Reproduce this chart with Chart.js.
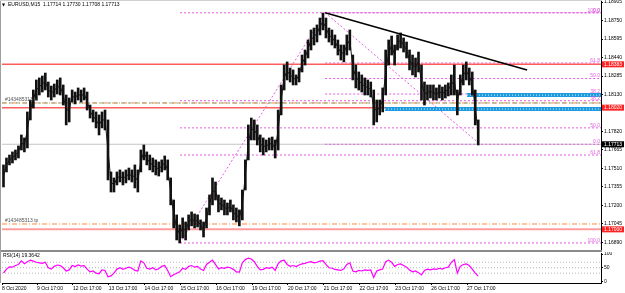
<!DOCTYPE html>
<html>
<head>
<meta charset="utf-8">
<script src="https://cdn.jsdelivr.net/npm/chart.js@4.4.1/dist/chart.umd.min.js"></script>
<style>
  html, body { margin: 0; padding: 0; background: #fff; }
  #wrap { position: relative; width: 625px; height: 293px; overflow: hidden; background: #fff; }
  #main { position: absolute; left: 0; top: 0; }
  #rsi { position: absolute; left: 0; top: 252px; }
  #sep { position: absolute; left: 0; top: 250px; width: 602px; height: 2px; background: #8a8a8a; }
  #edge { position: absolute; left: 0; top: 0; width: 1px; height: 283px; background: #a0a0a0; }
  #topline { position: absolute; left: 0; top: 0; width: 602px; height: 1px; background: #d0d0d0; }
</style>
</head>
<body>
<div id="wrap">
  <canvas id="main" width="625" height="250"></canvas>
  <div id="sep"></div>
  <canvas id="rsi" width="625" height="41"></canvas>
  <div id="edge"></div>
  <div id="topline"></div>
</div>
<script>
// EURUSD M15 with RSI(14) - MT4 style chart

// one drawn column = 8 M15 bars, plot width = 1605 bars
const sampleStep = 8;
const barsShown = 1605;

// high / low of each column
const highs = [
  1.17540, 1.17598, 1.17623, 1.17649, 1.17665, 1.17699, 1.17791, 1.17766, 1.17984, 1.18084,
  1.18168, 1.18252, 1.18269, 1.18285, 1.18310, 1.18235, 1.18201, 1.18218, 1.18252, 1.18269,
  1.18210, 1.18126, 1.18101, 1.18168, 1.18151, 1.18185, 1.18168, 1.18185, 1.18151, 1.18042,
  1.18000, 1.17984, 1.17959, 1.17984, 1.18000, 1.17917, 1.17481, 1.17431, 1.17481, 1.17498,
  1.17481, 1.17498, 1.17514, 1.17498, 1.17540, 1.17498, 1.17665, 1.17707, 1.17649, 1.17623,
  1.17598, 1.17582, 1.17565, 1.17582, 1.17615, 1.17582, 1.17431, 1.17246, 1.17121, 1.17037,
  1.17096, 1.17062, 1.17121, 1.17146, 1.17129, 1.17121, 1.17079, 1.17062, 1.17179, 1.17288,
  1.17431, 1.17397, 1.17288, 1.17263, 1.17246, 1.17221, 1.17246, 1.17205, 1.17179, 1.17163,
  1.17330, 1.17582, 1.17875, 1.17933, 1.17917, 1.17875, 1.17791, 1.17766, 1.17749, 1.17766,
  1.17774, 1.17749, 1.18000, 1.18210, 1.18377, 1.18403, 1.18352, 1.18336, 1.18294, 1.18352,
  1.18461, 1.18503, 1.18587, 1.18671, 1.18687, 1.18713, 1.18771, 1.18813, 1.18771, 1.18687,
  1.18671, 1.18629, 1.18587, 1.18545, 1.18545, 1.18629, 1.18671, 1.18461, 1.18377, 1.18319,
  1.18294, 1.18269, 1.18252, 1.18235, 1.18168, 1.18084, 1.18084, 1.18185, 1.18503, 1.18587,
  1.18620, 1.18545, 1.18629, 1.18646, 1.18604, 1.18570, 1.18503, 1.18461, 1.18436, 1.18486,
  1.18377, 1.18235, 1.18210, 1.18210, 1.18210, 1.18185, 1.18210, 1.18193, 1.18210, 1.18227,
  1.18294, 1.18377, 1.18168, 1.18294, 1.18377, 1.18403, 1.18352, 1.18319, 1.18168, 1.17917
];
const lows = [
  1.17355, 1.17481, 1.17540, 1.17556, 1.17582, 1.17598, 1.17665, 1.17649, 1.17682, 1.17917,
  1.18017, 1.18084, 1.18126, 1.18151, 1.18168, 1.18109, 1.18084, 1.18109, 1.18134, 1.18126,
  1.18042, 1.17875, 1.17900, 1.18067, 1.18051, 1.18084, 1.18067, 1.18084, 1.18000, 1.17933,
  1.17900, 1.17850, 1.17791, 1.17850, 1.17833, 1.17414, 1.17313, 1.17313, 1.17372, 1.17397,
  1.17372, 1.17389, 1.17414, 1.17397, 1.17347, 1.17313, 1.17481, 1.17582, 1.17540, 1.17498,
  1.17481, 1.17456, 1.17447, 1.17481, 1.17498, 1.17414, 1.17205, 1.17012, 1.16911, 1.16886,
  1.16928, 1.16911, 1.16995, 1.17029, 1.17012, 1.17020, 1.16995, 1.16936, 1.17012, 1.17121,
  1.17205, 1.17246, 1.17146, 1.17163, 1.17121, 1.17121, 1.17146, 1.17079, 1.17062, 1.17029,
  1.17079, 1.17330, 1.17582, 1.17749, 1.17749, 1.17707, 1.17649, 1.17623, 1.17649, 1.17665,
  1.17665, 1.17598, 1.17665, 1.17959, 1.18168, 1.18252, 1.18235, 1.18210, 1.18210, 1.18235,
  1.18319, 1.18377, 1.18436, 1.18503, 1.18545, 1.18570, 1.18629, 1.18671, 1.18604, 1.18570,
  1.18545, 1.18520, 1.18461, 1.18419, 1.18403, 1.18461, 1.18503, 1.18252, 1.18185, 1.18168,
  1.18151, 1.18126, 1.18126, 1.18109, 1.17875, 1.17900, 1.17959, 1.17984, 1.18126, 1.18377,
  1.18461, 1.18377, 1.18503, 1.18520, 1.18486, 1.18436, 1.18336, 1.18294, 1.18277, 1.18319,
  1.18084, 1.18042, 1.18084, 1.18101, 1.18084, 1.18084, 1.18101, 1.18084, 1.18101, 1.18118,
  1.18126, 1.18126, 1.17959, 1.18126, 1.18210, 1.18252, 1.18210, 1.18126, 1.17875, 1.17707
];
// RSI(14) at each column
const rsiValues = [
  30, 45, 53, 52, 58, 62, 75, 65, 72, 78,
  74, 70, 68, 66, 70, 50, 45, 55, 60, 58,
  50, 38, 42, 58, 54, 60, 56, 58, 45, 35,
  38, 30, 28, 42, 40, 17, 20, 30, 45, 50,
  44, 48, 52, 48, 40, 38, 75, 68, 48, 45,
  50, 42, 46, 55, 58, 40, 17, 24, 30, 35,
  48, 44, 55, 58, 52, 55, 45, 40, 62, 70,
  78, 62, 45, 50, 48, 52, 50, 44, 35, 34,
  68, 80, 85, 82, 72, 55, 42, 44, 50, 48,
  52, 40, 65, 75, 78, 62, 55, 58, 54, 60,
  64, 66, 70, 72, 68, 70, 74, 76, 62, 50,
  48, 44, 42, 40, 46, 62, 68, 38, 35, 40,
  38, 42, 40, 42, 14, 38, 42, 45, 72, 78,
  70, 55, 62, 64, 58, 52, 42, 35, 38, 32,
  24, 40, 45, 42, 46, 44, 48, 45, 50, 52,
  70, 80, 30, 55, 62, 64, 58, 45, 30, 19.3642
];

const priceTicks = [1.18905, 1.18750, 1.18595, 1.18440, 1.18285, 1.18130, 1.17820,
  1.17665, 1.17510, 1.17355, 1.17200, 1.17045, 1.16890];
const timeTickBars = [0, 94, 190, 286, 382, 478, 574, 670, 766, 862, 958, 1054, 1150, 1246];
const timeLabels = ['8 Oct 2020', '9 Oct 17:00', '12 Oct 17:00', '13 Oct 17:00', '14 Oct 17:00',
  '15 Oct 17:00', '16 Oct 17:00', '19 Oct 17:00', '20 Oct 17:00', '21 Oct 17:00',
  '22 Oct 17:00', '23 Oct 17:00', '26 Oct 17:00', '27 Oct 17:00'];
const rsiTicks = [0, 30, 50, 70, 100];
const rsiLevels = [30, 50, 70];

// objects on the chart
const redLevels = [1.18383, 1.18020, 1.17000];
const bidPrice = 1.17713;
const orderLevels = [1.18059, 1.17045];
const orderNames = ['#143485313 sl', '#143485313 tp'];
const blueStart = [1246, 1026];
const bluePrice = [1.18125, 1.18008];
const trendBars = [866, 1407];
const trendPrices = [1.18815, 1.18336];
const fibBars = [[477, 866], [866, 1281]];
const fibPrices = [[1.16886, 1.18815], [1.18815, 1.17713]];
const fibLevels = [0, 38.2, 50, 61.8, 100];

const FONT = 'Liberation Sans';
const fibColor = '#e45ce4';

function hline(price, from, color, width, dash, order) {
  return {
    type: 'line',
    data: [{ x: from, y: price }, { x: barsShown, y: price }],
    borderColor: color, borderWidth: width, borderDash: dash || [],
    pointRadius: 0, fill: false, order: order
  };
}

function fibPrice(f, lvl) {
  const p100 = fibPrices[f][0], p0 = fibPrices[f][1];
  return p0 + (p100 - p0) * lvl / 100;
}

// main window datasets
const mainSets = [];
mainSets.push({
  type: 'bar',
  data: highs.map((h, i) => ({ x: i * sampleStep + 4, y: [lows[i], h] })),
  backgroundColor: '#111', borderWidth: 0, barThickness: 2, grouped: false, order: 1
});
// thin stroke through the columns so the price path stays connected
mainSets.push({
  type: 'line',
  data: highs.map((h, i) => ({ x: i * sampleStep + 4, y: (h + lows[i]) / 2 })),
  borderColor: '#222', borderWidth: 1, pointRadius: 0, tension: 0, order: 1
});
mainSets.push(hline(bidPrice, 0, '#c4c4c4', 1, [], 8));
fibBars.forEach((fb, f) => {
  fibLevels.forEach(lvl => mainSets.push(hline(fibPrice(f, lvl), fb[0], fibColor, 1, [2, 2], 7)));
  mainSets.push({
    type: 'line',
    data: [{ x: fb[0], y: fibPrices[f][0] }, { x: fb[1], y: fibPrices[f][1] }],
    borderColor: fibColor, borderWidth: 1, borderDash: [2, 2], pointRadius: 0, order: 7
  });
});
mainSets.push(hline(redLevels[0], 0, '#ff5c5c', 1.5, [], 5));
mainSets.push(hline(redLevels[1], 0, '#ff5c5c', 1.5, [], 5));
mainSets.push(hline(redLevels[2], 0, '#ff9c9c', 2, [], 5));
mainSets.push(hline(orderLevels[0], 0, '#8fae8f', 1, [4, 3], 6));
orderLevels.forEach(p => mainSets.push(hline(p, 0, '#ff8a3d', 1, [5, 2, 1, 2], 6)));
bluePrice.forEach((p, i) => {
  mainSets.push(hline(p, blueStart[i], '#1e9be0', 4, [], 3));
  mainSets.push(hline(p, blueStart[i], 'rgba(255,255,255,0.85)', 1, [1, 2], 2));
});
mainSets.push({
  type: 'line',
  data: trendBars.map((b, i) => ({ x: b, y: trendPrices[i] })),
  borderColor: '#000', borderWidth: 1.5, pointRadius: 0, order: 0
});

// texts and price boxes
const overlay = {
  id: 'overlay',
  afterDraw(chart) {
    const ctx = chart.ctx, ys = chart.scales.y;
    ctx.save();
    ctx.textBaseline = 'middle';
    ctx.fillStyle = '#000';
    ctx.font = '4px "DejaVu Sans"';
    ctx.fillText('\u25BC', 2, 5);
    ctx.font = '5px "' + FONT + '"';
    ctx.fillText('EURUSD,M15  1.17714 1.17730 1.17708 1.17713', 8, 5);

    // order labels
    ctx.fillStyle = '#555';
    ctx.textBaseline = 'bottom';
    orderLevels.forEach((p, i) => ctx.fillText(orderNames[i], 5, ys.getPixelForValue(p) - 0.5));

    // fib level labels
    ctx.fillStyle = fibColor;
    ctx.textAlign = 'right';
    fibBars.forEach((fb, f) => {
      fibLevels.forEach(lvl => {
        ctx.fillText(lvl.toFixed(1), chart.chartArea.right - 1, ys.getPixelForValue(fibPrice(f, lvl)));
      });
    });

    // price boxes on the axis
    ctx.textAlign = 'left';
    ctx.textBaseline = 'middle';
    const boxes = redLevels.map(p => [p, '#ff2020']).concat([[bidPrice, '#000']]);
    boxes.forEach(([p, c]) => {
      const y = ys.getPixelForValue(p);
      ctx.fillStyle = c;
      ctx.fillRect(chart.chartArea.right + 1, y - 3, 22, 6);
      ctx.fillStyle = '#fff';
      ctx.fillText(p.toFixed(5), chart.chartArea.right + 3, y);
    });
    ctx.restore();
  }
};

new Chart(document.getElementById('main'), {
  type: 'bar',
  data: { datasets: mainSets },
  options: {
    responsive: false, animation: false, devicePixelRatio: 1, events: [],
    layout: { padding: { left: 2, right: 0, top: 0, bottom: 0 } },
    plugins: { legend: { display: false }, tooltip: { enabled: false } },
    scales: {
      x: { type: 'linear', min: 0, max: barsShown, offset: false, display: false },
      y: {
        position: 'right', min: 1.16827, max: 1.18922,
        afterBuildTicks: s => { s.ticks = priceTicks.map(v => ({ value: v })); },
        afterFit: s => { s.width = 24; s.paddingTop = 0; s.paddingBottom = 0; },
        ticks: { font: { family: FONT, size: 5 }, color: '#000', padding: 1, callback: v => v.toFixed(5) },
        grid: { drawOnChartArea: false, tickLength: 2, color: '#000' },
        border: { color: '#000' }
      }
    }
  },
  plugins: [overlay]
});

// RSI window
const rsiSets = [{
  type: 'line',
  data: rsiValues.map((v, i) => ({ x: i * sampleStep + 4, y: v })),
  borderColor: '#ff00ff', borderWidth: 1.2, pointRadius: 0, tension: 0, order: 0
}];
rsiLevels.forEach(l => rsiSets.push({
  type: 'line',
  data: [{ x: 0, y: l }, { x: barsShown, y: l }],
  borderColor: '#b4b4b4', borderWidth: 1, borderDash: [1, 2], pointRadius: 0, order: 1
}));

const rsiTitle = {
  id: 'rsiTitle',
  afterDraw(chart) {
    const ctx = chart.ctx;
    ctx.save();
    ctx.font = '5px "' + FONT + '"';
    ctx.fillStyle = '#000';
    ctx.textBaseline = 'middle';
    ctx.fillText('RSI(14) 19.3642', 3, 4);
    ctx.restore();
  }
};

new Chart(document.getElementById('rsi'), {
  type: 'line',
  data: { datasets: rsiSets },
  options: {
    responsive: false, animation: false, devicePixelRatio: 1, events: [],
    layout: { padding: { left: 2, right: 0, top: 1, bottom: 0 } },
    plugins: { legend: { display: false }, tooltip: { enabled: false } },
    scales: {
      x: {
        type: 'linear', min: 0, max: barsShown, offset: false,
        afterBuildTicks: s => { s.ticks = timeTickBars.map(v => ({ value: v })); },
        afterFit: s => { s.height = 10; s.paddingLeft = 0; s.paddingRight = 0; },
        ticks: {
          font: { family: FONT, size: 5 }, color: '#000', padding: 1, align: 'start',
          maxRotation: 0, autoSkip: false, callback: (v, i) => timeLabels[i]
        },
        grid: { drawOnChartArea: false, tickLength: 2, color: '#000' },
        border: { color: '#000' }
      },
      y: {
        position: 'right', min: -6, max: 104,
        afterBuildTicks: s => { s.ticks = rsiTicks.map(v => ({ value: v })); },
        afterFit: s => { s.width = 24; s.paddingTop = 0; s.paddingBottom = 0; },
        ticks: { font: { family: FONT, size: 5 }, color: '#000', padding: 1 },
        grid: { drawOnChartArea: false, tickLength: 2, color: '#000' },
        border: { color: '#000' }
      }
    }
  },
  plugins: [rsiTitle]
});
</script>
</body>
</html>
